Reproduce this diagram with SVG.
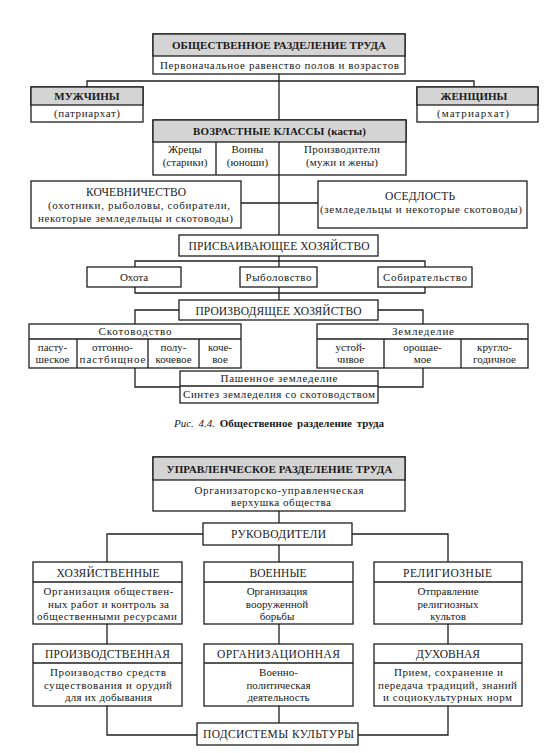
<svg xmlns="http://www.w3.org/2000/svg" width="555" height="753" viewBox="0 0 555 753">
<style>
.box{fill:#fff;stroke:#1e1e1e;stroke-width:1.3}
.hdr{fill:#d4d4d4;stroke:#1e1e1e;stroke-width:1.3}
.ln{fill:none;stroke:#1e1e1e;stroke-width:1.3}
text{font-family:"Liberation Serif","Times New Roman",serif;font-size:11px;fill:#1a1a1a;text-anchor:middle}
.b{font-weight:bold;font-size:11px}
.c{font-size:11.5px}
</style>
<rect width="555" height="753" fill="#fff"/>
<g id="connectors">
<path class="ln" d="M279 74V120"/>
<path class="ln" d="M87 87V81H474V87"/>
<path class="ln" d="M279 175V235"/>
<path class="ln" d="M241 203H318"/>
<path class="ln" d="M279 256V300"/>
<path class="ln" d="M135 261H425V293H135Z"/>
<path class="ln" d="M179 310H135V324"/>
<path class="ln" d="M378 310H423V324"/>
<path class="ln" d="M135 368V387H180"/>
<path class="ln" d="M423 368V387H378"/>
<path class="ln" d="M279 511V523"/>
<path class="ln" d="M279 545V562"/>
<path class="ln" d="M203 534H107V562"/>
<path class="ln" d="M352 534H448V562"/>
<path class="ln" d="M107 624V644"/>
<path class="ln" d="M279 624V644"/>
<path class="ln" d="M448 624V644"/>
<path class="ln" d="M279 706V723"/>
<path class="ln" d="M107 706V735H197"/>
<path class="ln" d="M448 706V735H358"/>
</g>
<g id="n-obshch">
<rect class="box" x="153" y="34" width="252" height="40"/>
<rect class="hdr" x="153" y="34" width="252" height="22"/>
<text class="b" x="279" y="49" textLength="214" lengthAdjust="spacing">ОБЩЕСТВЕННОЕ РАЗДЕЛЕНИЕ ТРУДА</text>
<text x="279.5" y="69" textLength="239" lengthAdjust="spacing">Первоначальное равенство полов и возрастов</text>
</g>
<g id="n-muzh">
<rect class="box" x="31" y="87" width="112" height="35"/>
<rect class="hdr" x="31" y="87" width="112" height="18"/>
<text class="b" x="87" y="100">МУЖЧИНЫ</text>
<text x="87" y="117" textLength="66" lengthAdjust="spacing">(патриархат)</text>
</g>
<g id="n-zhen">
<rect class="box" x="417" y="87" width="121" height="35"/>
<rect class="hdr" x="417" y="87" width="121" height="18"/>
<text class="b" x="474" y="100">ЖЕНЩИНЫ</text>
<text x="473" y="117" textLength="72" lengthAdjust="spacing">(матриархат)</text>
</g>
<g id="n-vozrast">
<rect class="box" x="153" y="120" width="253" height="55"/>
<rect class="hdr" x="153" y="120" width="253" height="22"/>
<path class="ln" d="M216 142V175M279 142V175"/>
<text class="b" x="279.5" y="135" textLength="173" lengthAdjust="spacing">ВОЗРАСТНЫЕ КЛАССЫ (касты)</text>
<text x="185" y="153">Жрецы</text>
<text x="185" y="166">(старики)</text>
<text x="247.5" y="153">Воины</text>
<text x="247.5" y="166">(юноши)</text>
<text x="342" y="153" textLength="76" lengthAdjust="spacing">Производители</text>
<text x="342" y="166" textLength="72" lengthAdjust="spacing">(мужи и жены)</text>
</g>
<g id="n-kochev">
<rect class="box" x="31" y="181" width="210" height="47"/>
<text class="c" x="136" y="196" textLength="100" lengthAdjust="spacing">КОЧЕВНИЧЕСТВО</text>
<text x="139" y="209" textLength="182" lengthAdjust="spacing">(охотники, рыболовы, собиратели,</text>
<text x="135.5" y="222" textLength="195" lengthAdjust="spacing">некоторые земледельцы и скотоводы)</text>
</g>
<g id="n-osedl">
<rect class="box" x="318" y="181" width="209" height="47"/>
<text class="c" x="420" y="200" textLength="70" lengthAdjust="spacing">ОСЕДЛОСТЬ</text>
<text x="421" y="213" textLength="202" lengthAdjust="spacing">(земледельцы и некоторые скотоводы)</text>
</g>
<g id="n-prisv">
<rect class="box" x="179" y="235" width="199" height="21"/>
<text class="c" x="279" y="250" textLength="181" lengthAdjust="spacing">ПРИСВАИВАЮЩЕЕ ХОЗЯЙСТВО</text>
</g>
<g id="n-ohota">
<rect class="box" x="87" y="267" width="94" height="20"/>
<text x="134" y="281">Охота</text>
</g>
<g id="n-rybol">
<rect class="box" x="240" y="267" width="77" height="20"/>
<text x="278.5" y="281" textLength="66" lengthAdjust="spacing">Рыболовство</text>
</g>
<g id="n-sobir">
<rect class="box" x="378" y="267" width="94" height="20"/>
<text x="425" y="281" textLength="84" lengthAdjust="spacing">Собирательство</text>
</g>
<g id="n-proizv">
<rect class="box" x="179" y="300" width="199" height="20"/>
<text class="c" x="278.5" y="314.5" textLength="166" lengthAdjust="spacing">ПРОИЗВОДЯЩЕЕ ХОЗЯЙСТВО</text>
</g>
<g id="n-skotov">
<rect class="box" x="29" y="324" width="212" height="44"/>
<path class="ln" d="M29 339H241M77 339V368M148 339V368M199 339V368"/>
<text x="135" y="335" textLength="73" lengthAdjust="spacing">Скотоводство</text>
<text x="52.5" y="351">пасту-</text>
<text x="52.5" y="363">шеское</text>
<text x="112.5" y="351">отгонно-</text>
<text x="112.5" y="363" textLength="66" lengthAdjust="spacing">пастбищное</text>
<text x="173.5" y="351">полу-</text>
<text x="173.5" y="363">кочевое</text>
<text x="220" y="351">коче-</text>
<text x="220" y="363">вое</text>
</g>
<g id="n-zemled">
<rect class="box" x="317" y="324" width="211" height="44"/>
<path class="ln" d="M317 339H528M384 339V368M461 339V368"/>
<text x="423" y="335" textLength="62" lengthAdjust="spacing">Земледелие</text>
<text x="350.5" y="351">устой-</text>
<text x="350.5" y="363">чивое</text>
<text x="422.5" y="351">орошае-</text>
<text x="422.5" y="363">мое</text>
<text x="494.5" y="351">кругло-</text>
<text x="494.5" y="363">годичное</text>
</g>
<g id="n-pashen">
<rect class="box" x="180" y="371" width="198" height="32"/>
<path class="ln" d="M180 386H378"/>
<text x="279" y="382" textLength="117" lengthAdjust="spacing">Пашенное земледелие</text>
<text x="279" y="398" textLength="192" lengthAdjust="spacing">Синтез земледелия со скотоводством</text>
</g>
<g id="caption">
<text x="279" y="427" font-size="10px" word-spacing="2"><tspan font-style="italic">Рис. 4.4.</tspan> <tspan font-weight="bold">Общественное разделение труда</tspan></text>
</g>
<g id="n-upravl">
<rect class="box" x="153" y="457" width="252" height="54"/>
<rect class="hdr" x="153" y="457" width="252" height="23"/>
<text class="b" x="279.5" y="472.5" textLength="226" lengthAdjust="spacing">УПРАВЛЕНЧЕСКОЕ РАЗДЕЛЕНИЕ ТРУДА</text>
<text x="279" y="494" textLength="169" lengthAdjust="spacing">Организаторско-управленческая</text>
<text x="281" y="506" textLength="100" lengthAdjust="spacing">верхушка   общества</text>
</g>
<g id="n-rukov">
<rect class="box" x="203" y="523" width="149" height="22"/>
<text class="c" x="278.5" y="538" textLength="95" lengthAdjust="spacing">РУКОВОДИТЕЛИ</text>
</g>
<g id="n-hozyaist">
<rect class="box" x="33" y="562" width="149" height="62"/>
<path class="ln" d="M33 582H182"/>
<text class="c" x="108" y="576.5" textLength="103" lengthAdjust="spacing">ХОЗЯЙСТВЕННЫЕ</text>
<text x="108.5" y="595" textLength="130" lengthAdjust="spacing">Организация   обществен-</text>
<text x="108.5" y="607.5" textLength="121" lengthAdjust="spacing">ных работ и контроль за</text>
<text x="107" y="620" textLength="140" lengthAdjust="spacing">общественными    ресурсами</text>
</g>
<g id="n-voen">
<rect class="box" x="204" y="562" width="149" height="62"/>
<path class="ln" d="M204 582H353"/>
<text class="c" x="278" y="576.5" textLength="57" lengthAdjust="spacing">ВОЕННЫЕ</text>
<text x="277" y="595">Организация</text>
<text x="277" y="607.5">вооруженной</text>
<text x="277" y="620">борьбы</text>
</g>
<g id="n-relig">
<rect class="box" x="374" y="562" width="148" height="62"/>
<path class="ln" d="M374 582H522"/>
<text class="c" x="447.5" y="576.5" textLength="89" lengthAdjust="spacing">РЕЛИГИОЗНЫЕ</text>
<text x="448" y="595">Отправление</text>
<text x="448" y="607.5">религиозных</text>
<text x="448" y="620">культов</text>
</g>
<g id="n-proizvod">
<rect class="box" x="33" y="644" width="149" height="62"/>
<path class="ln" d="M33 663H182"/>
<text class="c" x="107.5" y="657.5" textLength="125" lengthAdjust="spacing">ПРОИЗВОДСТВЕННАЯ</text>
<text x="108" y="676" textLength="116" lengthAdjust="spacing">Производство   средств</text>
<text x="108" y="688.5" textLength="128" lengthAdjust="spacing">существования и орудий</text>
<text x="108.5" y="701" textLength="87" lengthAdjust="spacing">для их добывания</text>
</g>
<g id="n-organiz">
<rect class="box" x="204" y="644" width="149" height="62"/>
<path class="ln" d="M204 663H353"/>
<text class="c" x="278.5" y="657.5" textLength="123" lengthAdjust="spacing">ОРГАНИЗАЦИОННАЯ</text>
<text x="278.5" y="676">Военно-</text>
<text x="278.5" y="688.5">политическая</text>
<text x="278.5" y="701">деятельность</text>
</g>
<g id="n-duhov">
<rect class="box" x="374" y="644" width="148" height="62"/>
<path class="ln" d="M374 663H522"/>
<text class="c" x="448" y="657.5" textLength="64" lengthAdjust="spacing">ДУХОВНАЯ</text>
<text x="448.5" y="676" textLength="109" lengthAdjust="spacing">Прием, сохранение и</text>
<text x="447.5" y="688.5" textLength="139" lengthAdjust="spacing">передача традиций, знаний</text>
<text x="447.5" y="701" textLength="129" lengthAdjust="spacing">и социокультурных норм</text>
</g>
<g id="n-podsist">
<rect class="box" x="197" y="723" width="161" height="22"/>
<text class="c" x="278.5" y="738" textLength="151" lengthAdjust="spacing">ПОДСИСТЕМЫ КУЛЬТУРЫ</text>
</g>
</svg>
